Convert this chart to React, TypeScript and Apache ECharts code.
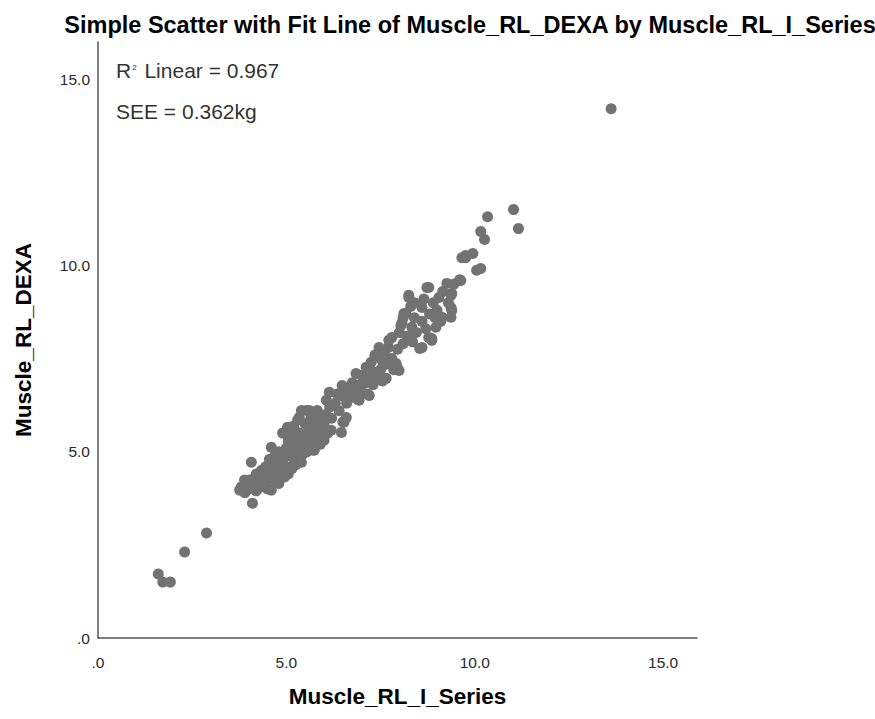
import React, { useEffect, useRef } from "react";
import * as echarts from "echarts";

const titleText = "Simple Scatter with Fit Line of Muscle_RL_DEXA by Muscle_RL_I_Series";
const xName = "Muscle_RL_I_Series";
const yName = "Muscle_RL_DEXA";
const rSquaredLabel = "0.967";
const seeLabel = "0.362kg";
const tickValues = [0, 5, 10, 15];

// Muscle_RL_I_Series (x) values
const seriesX: number[] = [
  1.6, 1.72, 1.92, 2.3, 2.88,
  3.76, 3.8, 3.9, 3.95, 4.0, 4.1, 4.07, 4.05, 4.15, 4.2, 3.89, 4.2, 4.25,
  4.34, 4.3, 4.35, 4.4, 4.45, 4.5, 4.5, 4.55, 4.6, 4.6, 4.6, 4.65, 4.7, 4.7,
  4.75, 4.8, 4.8, 4.85, 4.9, 4.9, 4.95, 4.95, 5.0, 5.03, 5.0, 5.05, 5.05,
  5.1, 5.1, 5.15, 5.15, 5.2, 5.2, 5.25, 5.25, 5.3, 5.3, 5.34, 5.35, 5.4, 5.4, 5.4, 5.45,
  5.5, 5.53, 5.5, 5.55, 5.6, 5.61, 5.6, 5.65, 5.7, 5.7, 5.74, 5.75, 5.8, 5.82, 5.8,
  5.85, 5.9, 5.95, 5.95, 6.0, 6.0, 6.05, 6.06, 6.1, 6.14, 6.15, 6.19, 6.2,
  6.3, 6.35, 6.4, 6.46, 6.48, 6.5, 6.53, 6.5, 6.59, 6.6, 6.6,
  6.7, 6.75, 6.8, 6.85, 6.9, 6.93, 6.95, 7.0, 7.0,
  7.1, 7.12, 7.15, 7.2, 7.2, 7.25, 7.3, 7.3, 7.35, 7.4,
  7.46, 7.46, 7.5, 7.54, 7.55, 7.6, 7.65, 7.65, 7.7, 7.72,
  7.8, 7.8, 7.85, 7.91, 7.94, 7.99, 7.95, 8.0, 8.04, 8.07, 8.1, 8.1,
  8.12, 8.17, 8.2, 8.25, 8.25, 8.3, 8.33, 8.35, 8.4, 8.4, 8.45,
  8.54, 8.6, 8.6, 8.6, 8.65, 8.7, 8.73, 8.78, 8.78, 8.8,
  8.86, 8.86, 8.9, 8.95, 8.97, 9.0, 9.05, 9.1, 9.13, 9.15,
  9.26, 9.3, 9.37, 9.37, 9.39, 9.39, 9.37, 9.45,
  9.6, 9.63, 9.66, 9.76, 9.76, 9.95, 10.05, 10.16, 10.16, 10.26, 10.34,
  11.03, 11.16, 13.62,
];

// Muscle_RL_DEXA (y) values
const seriesY: number[] = [
  1.72, 1.5, 1.5, 2.31, 2.82,
  3.97, 4.05, 3.9, 4.15, 4.0, 3.62, 4.72, 4.25, 4.1, 3.95, 4.24, 4.4, 4.2,
  4.5, 4.05, 4.3, 4.15, 4.6, 4.35, 4.0, 4.8, 3.97, 4.5, 5.12, 4.25, 4.65, 4.9,
  4.4, 5.0, 4.15, 4.7, 5.5, 4.5, 4.32, 4.85, 5.1, 5.66, 4.6, 4.4, 5.3,
  4.9, 5.5, 4.55, 5.1, 5.7, 4.8, 5.3, 4.65, 5.0, 5.85, 5.92, 5.5, 4.72, 5.2, 6.11, 4.95,
  5.4, 6.11, 5.75, 5.0, 5.6, 6.11, 5.25, 5.9, 5.45, 5.05, 5.04, 5.7, 5.3, 6.11, 5.9,
  5.55, 5.2, 5.58, 5.85, 5.31, 5.76, 6.0, 6.38, 5.5, 6.6, 6.2, 5.58, 5.9,
  6.3, 6.55, 6.1, 5.52, 6.78, 5.8, 5.79, 6.5, 5.92, 6.3, 6.7,
  6.45, 6.85, 6.6, 7.1, 6.4, 6.38, 6.8, 6.6, 7.05,
  6.85, 7.27, 6.55, 6.51, 7.0, 7.4, 6.8, 7.15, 7.6, 7.0,
  7.8, 7.53, 7.2, 7.45, 6.9, 7.65, 6.97, 7.35, 7.8, 7.99,
  8.07, 7.5, 7.2, 7.37, 7.27, 7.18, 7.75, 8.2, 8.39, 8.47, 7.9, 8.6,
  8.71, 8.71, 8.1, 9.2, 9.14, 8.9, 8.34, 7.95, 8.6, 9.0, 8.2,
  7.77, 7.8, 8.87, 8.5, 9.1, 8.3, 9.41, 9.41, 8.07, 8.7,
  8.04, 7.99, 9.0, 8.6, 8.34, 8.8, 9.14, 8.5, 8.61, 9.3,
  9.52, 9.0, 9.2, 8.87, 9.25, 8.79, 8.61, 9.5,
  9.62, 9.6, 10.21, 10.21, 10.27, 10.32, 9.87, 9.92, 10.91, 10.7, 11.31,
  11.5, 10.99, 14.21,
];

const tickFormatter = (v: number) => {
  if (!tickValues.includes(v)) return "";
  return v === 0 ? ".0" : v.toFixed(1);
};

export default function App() {
  const ref = useRef<HTMLDivElement>(null);
  useEffect(() => {
    if (!ref.current) return;
    const chart = echarts.init(ref.current, null, { renderer: "svg" });
    const points = seriesX.map((x, i) => [x, seriesY[i]]);
    const font = "'Liberation Sans', Arial, sans-serif";
    chart.setOption({
      animation: false,
      backgroundColor: "#ffffff",
      title: {
        text: titleText,
        left: 465,
        top: 8,
        textAlign: "center",
        textStyle: { fontFamily: font, fontSize: 23.5, fontWeight: "bold", color: "#000" },
      },
      grid: { left: 98, right: 178, top: 42, bottom: 81 },
      xAxis: {
        type: "value",
        min: 0,
        max: 15.9,
        interval: 5,
        name: xName,
        nameLocation: "middle",
        nameGap: 47,
        nameTextStyle: { fontFamily: font, fontSize: 22.5, fontWeight: "bold", color: "#000" },
        axisLine: { show: true, lineStyle: { color: "#555", width: 1.5 } },
        axisTick: { show: false },
        splitLine: { show: false },
        axisLabel: { formatter: tickFormatter, margin: 16, fontFamily: font, fontSize: 15.5, color: "#2a2a2a", showMaxLabel: true },
      },
      yAxis: {
        type: "value",
        min: 0,
        max: 16,
        interval: 5,
        name: yName,
        nameLocation: "middle",
        nameGap: 63,
        nameTextStyle: { fontFamily: font, fontSize: 22.5, fontWeight: "bold", color: "#000" },
        axisLine: { show: true, lineStyle: { color: "#555", width: 1.5 } },
        axisTick: { show: false },
        splitLine: { show: false },
        axisLabel: { formatter: tickFormatter, margin: 8, fontFamily: font, fontSize: 15.5, color: "#2a2a2a" },
      },
      graphic: [
        {
          type: "text",
          left: 116,
          top: 60,
          style: {
            text: "R{sup|2} Linear = " + rSquaredLabel,
            fontFamily: font,
            fontSize: 21,
            fill: "#333",
            rich: { sup: { fontSize: 8, fontFamily: font, fill: "#333", padding: [0, 2, 6, 1] } },
          },
        },
        {
          type: "text",
          left: 116,
          top: 101,
          style: { text: "SEE = " + seeLabel, fontFamily: font, fontSize: 21, fill: "#333" },
        },
      ],
      series: [
        {
          type: "scatter",
          data: points,
          symbolSize: 11,
          itemStyle: { color: "#727272", opacity: 1 },
        },
      ],
    });
    return () => chart.dispose();
  }, []);
  return <div ref={ref} style={{ position: "fixed", left: 0, top: 0, width: 875, height: 719 }} />;
}
